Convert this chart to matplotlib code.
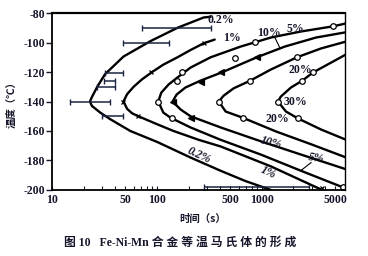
import matplotlib
matplotlib.use("Agg")
import matplotlib.pyplot as plt
from matplotlib.ticker import FixedLocator, NullFormatter

plt.rcParams['font.family'] = ['Liberation Serif', 'Noto Sans CJK SC']

# ---- curves (time s, temperature C) ----
t_02 = [325, 279, 157, 87, 48, 32, 27, 24, 23, 24, 28.8, 35.9, 55.8, 101, 209, 405, 700, 1220]
T_02 = [-82.5, -83, -90, -99, -109.5, -121.5, -130, -137, -140, -143, -147.5, -152, -160, -167.5, -178, -187, -194, -200]

t_1 = [355, 279, 210, 157, 115, 90, 72, 60, 52, 48, 52, 58, 66.5, 101, 144, 250, 405, 1219, 3750]
T_1 = [-98, -100.5, -105, -110, -115, -120, -125, -130, -135, -140, -145, -148, -150, -155.5, -160, -166, -170.5, -184, -200]

t_5 = [6365, 4780, 2362, 1219, 630, 325, 209, 157, 129, 110, 103, 115, 135, 209, 405, 978, 2362, 5960]
T_5 = [-87, -89, -92.5, -96.6, -102.7, -110, -117, -123.7, -128.5, -134, -140, -147.5, -151, -157.6, -166, -176, -187, -198.3]

t_10 = [6365, 3287, 1660, 896, 414, 261, 187, 154, 141, 168, 209, 405, 978, 2362, 6365]
T_10 = [-93, -96.6, -102.7, -110, -120.3, -125.8, -130.5, -135.3, -140, -145.4, -150, -157.6, -167, -176, -186]

t_20 = [6365, 3669, 2162, 1219, 768, 540, 433, 388, 452, 658, 1361, 2944, 6365]
T_20 = [-99.3, -104, -110, -118.3, -126, -131, -136, -140, -146.8, -151, -160.3, -169, -178]

t_30 = [6365, 4575, 3076, 2414, 1894, 1520, 1423, 1697, 2210, 3669, 6365]
T_30 = [-108, -113.6, -120.3, -126, -130.5, -136.6, -140, -146.8, -151.5, -159, -166]

# ---- data markers ----
x1_t = [48, 66.5, 87, 279, 3750]
x1_T = [-140, -150, -120, -100, -199]
c5_t = [103, 138, 157, 175, 552, 857, 4780, 5960]
c5_T = [-140, -151, -126.4, -120.3, -110.2, -99.3, -89, -198.3]
tri10_t = [141, 209, 261, 405, 896]
tri10_T = [-140, -151, -127, -120, -110]
c20_t = [388, 658, 768, 2162]
c20_T = [-140, -151, -126, -110]
c30_t = [1423, 2210, 2414, 3076]
c30_T = [-140, -151.5, -126, -120.3]

# ---- error bars (0.2 %) ----
err_T = [-90, -100, -121, -126, -130, -140, -150, -198]
err_lo = [72, 47, 32, 31, 27, 15, 30, 280]
err_hi = [330, 131, 48, 40, 40, 36, 48, 2800]

# ---- labels ----
xtick_vals = [10, 50, 100, 500, 1000, 5000]
xtick_labels = ['10', '50', '100', '500', '1000', '5000']
ytick_vals = [-80, -100, -120, -140, -160, -180, -200]
minor_x = [20, 30, 40, 60, 70, 80, 90, 200, 300, 400, 600, 700, 800, 900, 2000, 3000, 4000, 6000]

ink = '#15162a'

fig = plt.figure(figsize=(3.68, 2.56), dpi=100)
ax = fig.add_axes([0.1413, 0.258, 0.7962, 0.691])
ax.set_xscale('log')
ax.set_xlim(10, 6200)
ax.set_ylim(-200, -80)

for tt, TT in [(t_02, T_02), (t_1, T_1), (t_5, T_5), (t_10, T_10), (t_20, T_20), (t_30, T_30)]:
    ax.plot(tt, TT, color='black', lw=1.7, solid_capstyle='round', solid_joinstyle='round')

mk = dict(linestyle='none', markeredgecolor='black', markeredgewidth=0.9)
ax.plot(x1_t, x1_T, marker='x', ms=3.5, color='black', **mk)
ax.plot(c5_t, c5_T, marker='o', ms=4, markerfacecolor='white', **mk)
ax.plot(tri10_t, tri10_T, marker='<', ms=4.2, markerfacecolor='black', **mk)
ax.plot(c20_t, c20_T, marker='o', ms=4, markerfacecolor='white', **mk)
ax.plot(c30_t, c30_T, marker='o', ms=4, markerfacecolor='white', **mk)

ax.hlines(err_T, err_lo, err_hi, color='#1a2440', lw=1.1)
ax.plot(err_lo, err_T, linestyle='none', marker='|', ms=4, color='#1a2440', markeredgewidth=1.0)
ax.plot(err_hi, err_T, linestyle='none', marker='|', ms=4, color='#1a2440', markeredgewidth=1.0)

# curve labels
lab = dict(color=ink, fontsize=8.5, fontweight='bold')
ax.text(304, -84.4, '0.2%', ha='left', va='center', **lab)
ax.text(424, -96.6, '1%', ha='left', va='center', **lab)
ax.text(896, -93.2, '10%', ha='left', va='center', **lab)
ax.text(1734, -90.5, '5%', ha='left', va='center', **lab)
ax.text(1775, -118.3, '20%', ha='left', va='center', **lab)
ax.text(1625, -140, '30%', ha='left', va='center', **lab)
ax.text(1092, -152.2, '20%', ha='left', va='center', **lab)
ax.text(1220, -167.8, '10%', ha='center', va='center', rotation=-15, style='italic', **lab)
ax.text(3290, -178.7, '5%', ha='center', va='center', rotation=-10, style='italic', **lab)
ax.text(1140, -188, '1%', ha='center', va='center', rotation=-25, style='italic', **lab)
ax.text(249, -176.6, '0.2%', ha='center', va='center', rotation=-25, style='italic', **lab)
ax.plot([1330, 1480], [-96.6, -103.4], color='black', lw=0.8)
ax.plot([2944, 2362], [-181.4, -186.8], color='black', lw=0.8)

# axes styling
ax.xaxis.set_major_locator(FixedLocator(xtick_vals))
ax.set_xticklabels(xtick_labels)
ax.xaxis.set_minor_locator(FixedLocator(minor_x))
ax.xaxis.set_minor_formatter(NullFormatter())
ax.set_yticks(ytick_vals)
ax.set_yticklabels([str(v) for v in ytick_vals])
ax.tick_params(axis='x', which='both', direction='in', length=3, width=0.8, labelsize=8.5,
               colors=ink, pad=3)
ax.tick_params(axis='y', which='major', direction='out', length=4, width=1.0, labelsize=8.5,
               colors=ink, pad=1)
for lbl in ax.get_xticklabels() + ax.get_yticklabels():
    lbl.set_fontweight('bold')
for side, w in [('left', 1.3), ('bottom', 1.3), ('top', 1.6), ('right', 1.0)]:
    ax.spines[side].set_linewidth(w)
    ax.spines[side].set_color('black')

fig.text(0.033, 0.6, '温度（℃）', rotation=90, ha='center', va='center', fontsize=7.5,
         fontweight='bold', color=ink, family=['Noto Sans CJK SC', 'DejaVu Sans'])
fig.text(0.55, 0.145, '时间（s）', ha='center', va='center', fontsize=7.5, fontweight='bold',
         color=ink, family=['Noto Sans CJK SC', 'DejaVu Sans'])
fig.text(0.49, 0.05, '图 10   Fe-Ni-Mn 合 金 等 温 马 氏 体 的 形 成', ha='center', va='center',
         fontsize=8.5, color=ink, fontweight='bold', family=['Liberation Serif', 'Noto Sans CJK SC'])

fig.savefig('out.png', dpi=100)
